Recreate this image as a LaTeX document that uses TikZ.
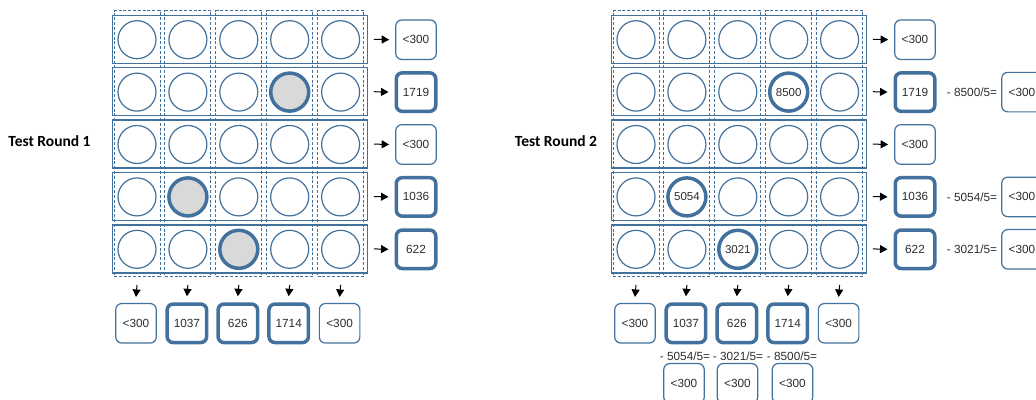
\documentclass[tikz,border=0pt]{standalone}
\usepackage{fontspec}
\setmainfont{Liberation Sans}
\newfontfamily\carlito{Carlito}
\usetikzlibrary{arrows.meta}
\definecolor{bl}{RGB}{65,113,156}
\definecolor{hl}{RGB}{217,217,217}
\definecolor{tx}{RGB}{45,45,45}
\begin{document}
\begin{tikzpicture}[x=1pt,y=-1pt,
  cell/.style={circle,draw=bl,line width=1.2pt,minimum size=38pt,inner sep=0pt,fill=white,font=\fontsize{11.5}{12}\selectfont,text=tx},
  hotcell/.style={cell,line width=3.5pt},
  rowbox/.style={draw=bl,line width=1.4pt,minimum width=255pt,minimum height=48pt,inner sep=0pt},
  colbox/.style={draw=bl,line width=0.9pt,dash pattern=on 3pt off 1.8pt,minimum width=46pt,minimum height=266pt,inner sep=0pt},
  res/.style={draw=bl,fill=white,rounded corners=6pt,line width=1.2pt,minimum width=40.5pt,minimum height=39.5pt,inner sep=0pt,font=\fontsize{11.8}{12}\selectfont,text=tx},
  reshot/.style={res,line width=3.5pt,minimum width=39.5pt,minimum height=38.5pt},
  arr/.style={-{Triangle[length=7.5pt,width=8pt]},line width=1pt,black},
  eq/.style={font=\fontsize{11.8}{12}\selectfont,text=tx,inner sep=0pt},
  ttl/.style={font=\carlito\bfseries\fontsize{15.5}{17}\selectfont,text=black}]
\useasboundingbox (0,0) rectangle (1036,399);
\clip (0,0) rectangle (1036,399);
% titles
\node[ttl] (t1) at (49.5,141) {Test Round 1};
\node[ttl] (t2) at (556,141) {Test Round 2};
\foreach \r/\ox in {1/0,2/499}{
  \begin{scope}[xshift=\ox pt]
    % dashed columns
    \foreach \j in {0,...,4}{
      \node[colbox] (col\r-\j) at ({137+50.9*\j},143.5) {};
    }
    % solid rows
    \foreach \i in {0,...,4}{
      \node[rowbox] (row\r-\i) at (239.7,{39.3+52.4*\i}) {};
    }
    % circles
    \foreach \i in {0,...,4}{
      \foreach \j in {0,...,4}{
        \pgfmathtruncatemacro\h{((\i==1)&&(\j==3))||((\i==3)&&(\j==1))||((\i==4)&&(\j==2))}
        \ifnum\h=1
          \ifnum\r=1
            \node[hotcell,fill=hl] (c\r-\i-\j) at ({137+50.9*\j},{39.7+52.4*\i}) {};
          \else
            \pgfmathtruncatemacro\v{(\i==1)*8500+(\i==3)*5054+(\i==4)*3021}
            \node[hotcell] (c\r-\i-\j) at ({137+50.9*\j},{39.7+52.4*\i}) {\v};
          \fi
        \else
          \node[cell] (c\r-\i-\j) at ({137+50.9*\j},{39.7+52.4*\i}) {};
        \fi
      }
    }
    % row results
    \foreach \i/\t/\s in {0/{<300}/res,1/1719/reshot,2/{<300}/res,3/1036/reshot,4/622/reshot}{
      \node[\s] (rr\r-\i) at (416,{39.7+52.4*\i}) {\t};
      \draw[arr] ([xshift=6pt]row\r-\i.east) -- ([xshift=-6pt]rr\r-\i.west);
    }
    % column results
    \foreach \j/\t/\s in {0/{<300}/res,1/1037/reshot,2/626/reshot,3/1714/reshot,4/{<300}/res}{
      \node[\s] (cr\r-\j) at ({136+50.9*\j},323.3) {\t};
      \draw[arr] ([yshift=-8pt]col\r-\j.south) -- ([yshift=6pt]cr\r-\j.north);
    }
  \end{scope}
}
% extra corrections in round 2
\node[eq] (e1) at (972,92.1) {- 8500/5=};
\node[res] (x1) at (1022,92.1) {<300};
\node[eq] (e3) at (972,196.9) {- 5054/5=};
\node[res] (x3) at (1022,196.9) {<300};
\node[eq] (e4) at (972,249.3) {- 3021/5=};
\node[res] (x4) at (1022,249.3) {<300};
\node[eq] (b1) at (685,356) {- 5054/5=};
\node[eq] (b2) at (738,356) {- 3021/5=};
\node[eq] (b3) at (792,356) {- 8500/5=};
\node[res] (y1) at (684,383.3) {<300};
\node[res] (y2) at (737.5,383.3) {<300};
\node[res] (y3) at (792.5,383.3) {<300};
\end{tikzpicture}
\end{document}
